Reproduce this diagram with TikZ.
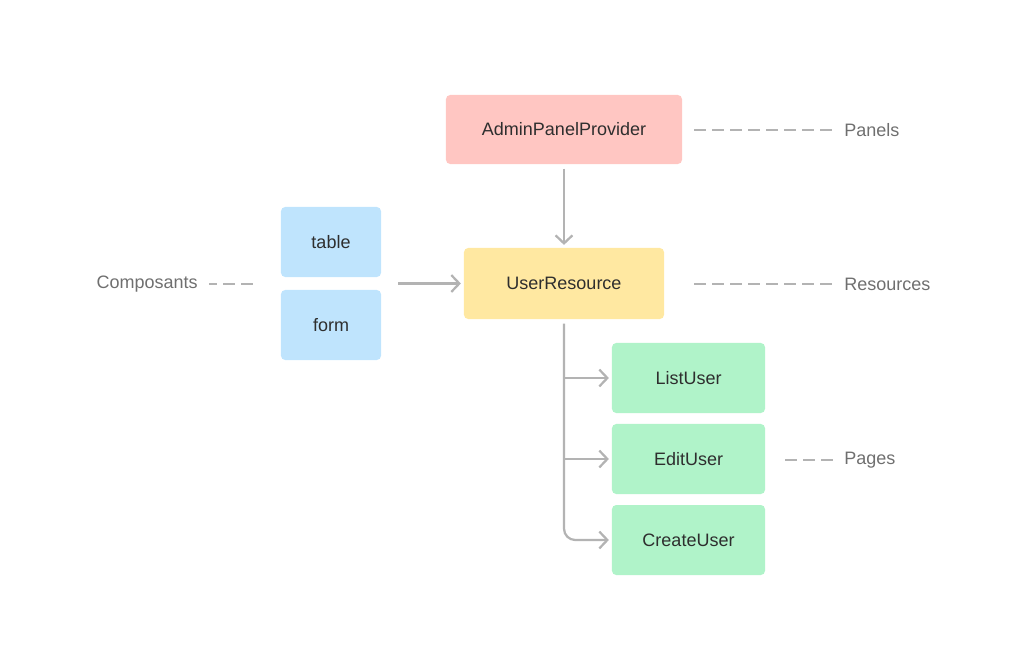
\documentclass[tikz,border=0pt]{standalone}
\usepackage{fontspec}
\setmainfont{Liberation Sans}
\usetikzlibrary{positioning,calc,arrows.meta}

\definecolor{panelred}{HTML}{FFC6C2}
\definecolor{resyellow}{HTML}{FFE8A1}
\definecolor{compblue}{HTML}{BFE4FD}
\definecolor{pagegreen}{HTML}{B0F3C9}
\definecolor{linegray}{HTML}{B3B3B3}
\definecolor{labelgray}{HTML}{6F6F6F}
\definecolor{textdark}{HTML}{2E2E2E}

\tikzset{
  box/.style={rounded corners=3pt,inner sep=0pt,text=textdark,
    font=\fontsize{12.8}{15}\selectfont},
  side/.style={text=labelgray,inner sep=0pt,font=\fontsize{12.8}{15}\selectfont},
  link/.style={draw=linegray,line width=1.6pt,
    -{Straight Barb[length=0.2cm,width=0.42cm]}},
  guide/.style={draw=linegray,line width=1.6pt,dash pattern=on 0.3cm off 0.15cm}
}

\begin{document}
\begin{tikzpicture}[x=0.025cm,y=-0.025cm]
\useasboundingbox (0,0) rectangle (1024,671);

\node [box,fill=panelred,minimum width=5.9cm,minimum height=1.725cm] (Apanel) at (564,129.5) {AdminPanelProvider};
\node [box,fill=resyellow,minimum width=5cm,minimum height=1.775cm] (Ures) at (564,283.5) {UserResource};
\node [box,fill=compblue,minimum width=2.5cm,minimum height=1.75cm] (Ctable) at (331,242) {table};
\node [box,fill=compblue,minimum width=2.5cm,minimum height=1.75cm] (Cform) at (331,325) {form};
\node [box,fill=pagegreen,minimum width=3.825cm,minimum height=1.75cm] (Plist) at (688.5,378) {ListUser};
\node [box,fill=pagegreen,minimum width=3.825cm,minimum height=1.75cm] (Pedit) at (688.5,459) {EditUser};
\node [box,fill=pagegreen,minimum width=3.825cm,minimum height=1.75cm] (Pcreate) at (688.5,540) {CreateUser};

\node [side,anchor=west] (Lpanels) at (844,130) {Panels};
\node [side,anchor=west] (Lres) at (844,284) {Resources};
\node [side,anchor=west] (Lpages) at (844,460) {Pages};
\node [side,anchor=east] (Lcomp) at (198,284) {Composants};

\draw [link,shorten <=3pt,shorten >=2pt] (Apanel) -- (Ures);
\draw [link,shorten >=2pt] ($(Ctable.south east)!0.5!(Cform.north east) + (17,0)$) -- (Ures.west);
\draw [link,rounded corners=8pt,shorten <=3pt,shorten >=2pt] (Ures.south) |- (Pcreate.west);
\draw [link,shorten >=2pt] (Ures.south |- Plist) -- (Plist.west);
\draw [link,shorten >=2pt] (Ures.south |- Pedit) -- (Pedit.west);

\draw [guide] ($(Apanel.east |- Lpanels.west) + (12,0)$) -- ($(Lpanels.west) + (-6,0)$);
\draw [guide] ($(Lres.west) + (-150,0)$) -- ($(Lres.west) + (-6,0)$);
\draw [guide] ($(Lpages.west) + (-59,0)$) -- ($(Lpages.west) + (-6,0)$);
\draw [guide,dash phase=0.1cm] ($(Lcomp.east) + (11,0)$) -- ($(Lcomp.east) + (60,0)$);
\end{tikzpicture}
\end{document}
